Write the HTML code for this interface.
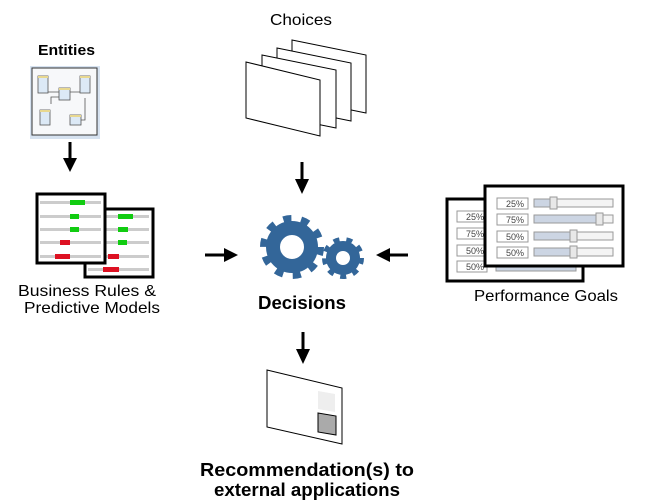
<!DOCTYPE html>
<html><head><meta charset="utf-8"><style>
html,body{margin:0;padding:0;background:#fff}
svg{display:block}
text{font-family:"Liberation Sans",Arial,sans-serif}
</style></head><body>
<svg width="649" height="503" viewBox="0 0 649 503" xmlns="http://www.w3.org/2000/svg">
<!-- Titles -->
<text x="270" y="25" font-size="16" textLength="62" lengthAdjust="spacingAndGlyphs">Choices</text>
<text x="38" y="55" font-size="15" font-weight="bold" textLength="57" lengthAdjust="spacingAndGlyphs">Entities</text>
<text x="18" y="296" font-size="16" textLength="138" lengthAdjust="spacingAndGlyphs">Business Rules &amp;</text>
<text x="24" y="313" font-size="16" textLength="136" lengthAdjust="spacingAndGlyphs">Predictive Models</text>
<text x="258" y="309" font-size="18" font-weight="bold" textLength="88" lengthAdjust="spacingAndGlyphs">Decisions</text>
<text x="474" y="301" font-size="16" textLength="144" lengthAdjust="spacingAndGlyphs">Performance Goals</text>
<text x="200" y="476" font-size="18" font-weight="bold" textLength="214" lengthAdjust="spacingAndGlyphs">Recommendation(s) to</text>
<text x="214" y="496" font-size="18" font-weight="bold" textLength="186" lengthAdjust="spacingAndGlyphs">external applications</text>

<!-- Entities box -->
<rect x="30" y="66" width="70" height="73" fill="#d6e2f0"/>
<rect x="32" y="68" width="65" height="67" fill="#f7f8fa" stroke="#333" stroke-width="1"/>
<g stroke="#555" stroke-width="0.8" fill="#dce9f6">
<path d="M48 92 H59 M70 92 H81 M59 97 H51 V104 M85 98 V120 H80" fill="none"/>
<rect x="38" y="76" width="10" height="17"/><rect x="59" y="88" width="11" height="12"/>
<rect x="80" y="76" width="10" height="17"/><rect x="40" y="110" width="10" height="15"/>
<rect x="70" y="115" width="11" height="10"/>
</g>
<g fill="#e8d890"><rect x="38" y="76" width="10" height="2"/><rect x="59" y="88" width="11" height="2"/><rect x="80" y="76" width="10" height="2"/><rect x="40" y="110" width="10" height="2"/><rect x="70" y="115" width="11" height="2"/></g>

<!-- Arrows -->
<g fill="#000" stroke="#000">
<line x1="70" y1="142" x2="70" y2="160" stroke-width="3"/><polygon points="63,158 77,158 70,172" stroke="none"/>
<line x1="302" y1="162" x2="302" y2="181" stroke-width="3"/><polygon points="295,179 309,179 302,194" stroke="none"/>
<line x1="205" y1="255" x2="226" y2="255" stroke-width="3"/><polygon points="224,248 224,262 238,255" stroke="none"/>
<line x1="408" y1="255" x2="388" y2="255" stroke-width="3"/><polygon points="390,248 390,262 376,255" stroke="none"/>
<line x1="303" y1="332" x2="303" y2="351" stroke-width="3"/><polygon points="296,349 310,349 303,364" stroke="none"/>
</g>

<!-- Choices pages -->
<g fill="#fff" stroke="#000" stroke-width="1">
<polygon points="292,40 366,55 366,113 292,98"/>
<polygon points="277,48 351,63 351,121 277,106"/>
<polygon points="262,55 336,70 336,128 262,113"/>
<polygon points="246,62 320,80 320,136 246,118"/>
</g>

<!-- Gears -->
<g fill="none" stroke="#336699">
<circle cx="292" cy="247" r="19" stroke-width="14"/>
<circle cx="292" cy="247" r="28" stroke-width="8" stroke-dasharray="8 9.59"/>
<circle cx="343" cy="258" r="12" stroke-width="10"/>
<circle cx="343" cy="258" r="18.5" stroke-width="5" stroke-dasharray="6 6.91"/>
</g>

<!-- Business rules -->
<g>
<rect x="85" y="209" width="68" height="68" fill="#fff" stroke="#000" stroke-width="3"/>
<g fill="#ccc"><rect x="88" y="215" width="61" height="3"/><rect x="88" y="228" width="61" height="3"/><rect x="88" y="241" width="61" height="3"/><rect x="88" y="255" width="61" height="3"/><rect x="88" y="268" width="61" height="3"/></g>
<g fill="#1c1"><rect x="118" y="214" width="15" height="5"/><rect x="118" y="227" width="10" height="5"/><rect x="118" y="240" width="9" height="5"/></g>
<g fill="#d12"><rect x="108" y="254" width="11" height="5"/><rect x="103" y="267" width="16" height="5"/></g>
<rect x="37" y="194" width="68" height="69" fill="#fff" stroke="#000" stroke-width="3"/>
<g fill="#ccc"><rect x="40" y="201" width="61" height="3"/><rect x="40" y="215" width="61" height="3"/><rect x="40" y="228" width="61" height="3"/><rect x="40" y="241" width="61" height="3"/><rect x="40" y="255" width="61" height="3"/></g>
<g fill="#1c1"><rect x="70" y="200" width="15" height="5"/><rect x="70" y="214" width="9" height="5"/><rect x="70" y="227" width="9" height="5"/></g>
<g fill="#d12"><rect x="60" y="240" width="10" height="5"/><rect x="55" y="254" width="15" height="5"/></g>
</g>

<!-- Performance goals -->
<g font-size="9">
<rect x="447" y="199" width="136" height="82" fill="#fff" stroke="#000" stroke-width="3"/>
<g fill="#fff" stroke="#999" stroke-width="1">
<rect x="457" y="211" width="30" height="11"/><rect x="457" y="228" width="30" height="11"/><rect x="457" y="245" width="30" height="11"/><rect x="457" y="261" width="30" height="11"/>
<rect x="496" y="263" width="80" height="8" fill="#ccd5e3"/>
</g>
<g fill="#444"><text x="466" y="220">25%</text><text x="466" y="237">75%</text><text x="466" y="254">50%</text><text x="466" y="270">50%</text></g>
<rect x="485" y="186" width="138" height="80" fill="#fff" stroke="#000" stroke-width="3"/>
<g stroke="#999" stroke-width="1">
<rect x="497" y="198" width="31" height="11" fill="#fff"/><rect x="497" y="214" width="31" height="11" fill="#fff"/><rect x="497" y="231" width="31" height="11" fill="#fff"/><rect x="497" y="247" width="31" height="11" fill="#fff"/>
<rect x="534" y="199" width="79" height="8" fill="#f4f4f4"/><rect x="534" y="215" width="79" height="8" fill="#f4f4f4"/><rect x="534" y="232" width="79" height="8" fill="#f4f4f4"/><rect x="534" y="248" width="79" height="8" fill="#f4f4f4"/>
<rect x="534" y="199" width="17" height="8" fill="#ccd5e3"/><rect x="534" y="215" width="64" height="8" fill="#ccd5e3"/><rect x="534" y="232" width="38" height="8" fill="#ccd5e3"/><rect x="534" y="248" width="38" height="8" fill="#ccd5e3"/>
<rect x="550" y="197" width="7" height="12" fill="#e8e8e8"/><rect x="596" y="213" width="7" height="12" fill="#e8e8e8"/><rect x="570" y="230" width="7" height="12" fill="#e8e8e8"/><rect x="570" y="246" width="7" height="12" fill="#e8e8e8"/>
</g>
<g fill="#444"><text x="506" y="207">25%</text><text x="506" y="223">75%</text><text x="506" y="240">50%</text><text x="506" y="256">50%</text></g>
</g>

<!-- Recommendation page -->
<polygon points="267,370 342,388 342,444 267,427" fill="#fff" stroke="#000" stroke-width="1"/>
<polygon points="318,391 335,394 335,412 318,409" fill="#eee"/>
<polygon points="318,413 336,416 336,435 318,432" fill="#aaa" stroke="#000" stroke-width="1"/>
</svg>
</body></html>
